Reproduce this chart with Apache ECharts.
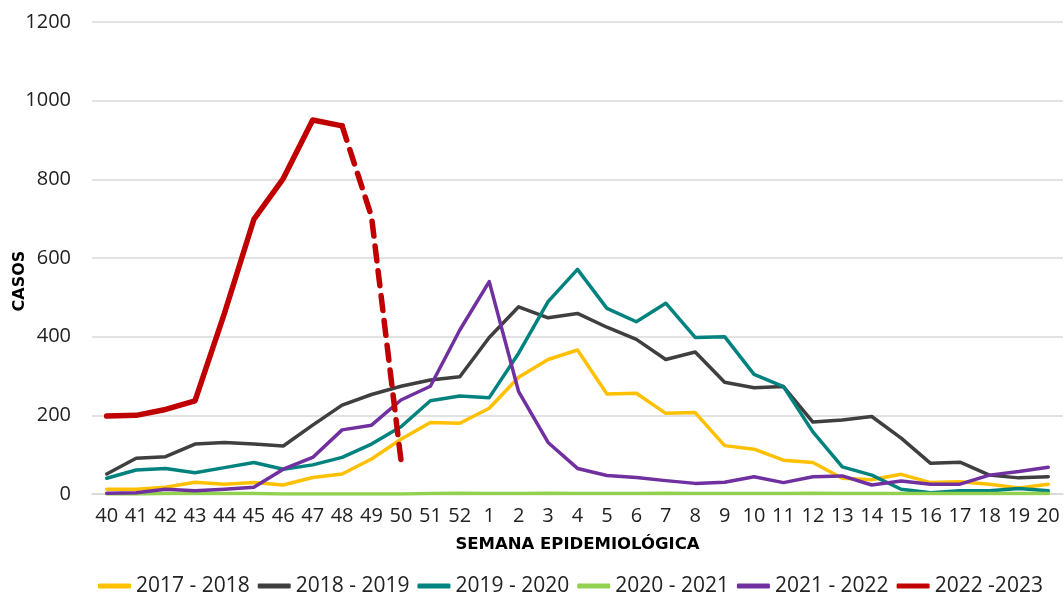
<!DOCTYPE html>
<html><head><meta charset="utf-8">
<script src="https://cdn.jsdelivr.net/npm/echarts@6/dist/echarts.min.js"></script>
<style>html,body{margin:0;padding:0;background:#fff}#c{width:1064px;height:594px}</style>
</head><body><div id="c"></div>
<script>
const weeks = ['40','41','42','43','44','45','46','47','48','49','50','51','52','1','2','3','4','5','6','7','8','9','10','11','12','13','14','15','16','17','18','19','20'];
const yTicks = [0, 200, 400, 600, 800, 1000, 1200];
const s2017 = [12,12,17,30,25,29,23,42,51,89,139,182,180,218,297,342,366,254,256,205,207,123,114,86,80,40,36,50,29,31,25,15,25];
const s2018 = [51,91,95,127,131,127,122,175,226,253,274,290,298,398,476,448,459,424,393,342,361,284,270,273,183,188,197,142,78,81,48,41,44];
const s2019 = [40,61,65,54,67,80,63,74,93,127,171,237,249,245,358,489,571,472,438,485,398,400,304,273,158,69,48,12,3,8,8,14,8];
const s2020 = [0,0,1,1,1,1,0,0,0,0,0,1,2,1,1,2,1,1,1,2,1,1,1,1,2,1,1,1,1,1,1,1,1];
const s2021 = [2,3,12,8,12,17,63,93,163,175,239,274,417,540,260,131,65,47,42,34,27,30,44,29,44,46,23,33,25,25,48,57,68];
const s2022 = [198,200,215,237,459,698,802,951,936,705,86];
const dashFrom = 8;

const names = ['2017 - 2018','2018 - 2019','2019 - 2020','2020 - 2021','2021 - 2022','2022 -2023'];
const colors = ['#FFC000','#3F3F3F','#00827F','#92D050','#7030A0','#C00000'];

const solid2022 = weeks.map((w,i)=> i<=dashFrom && i<s2022.length ? s2022[i] : null);
const dash2022 = weeks.map((w,i)=> i>=dashFrom && i<s2022.length ? s2022[i] : null);

function line(name, data, color, width, type){
  return {name, type:'line', data, symbol:'none', smooth:false, connectNulls:false,
    lineStyle:{color, width, type: type||'solid', cap:'round', join:'round'}, itemStyle:{color},
    emphasis:{disabled:true}, animation:false};
}
const font = '"Open Sans", "Noto Sans", sans-serif';
const bold = '"DejaVu Sans", "Open Sans", sans-serif';
const chart = echarts.init(document.getElementById('c'), null, {renderer:'canvas'});
chart.setOption({
  animation:false,
  grid:{left:92, right:1, top:22, bottom:100, containLabel:false, outerBoundsMode:'none'},
  xAxis:{type:'category', data:weeks, boundaryGap:true,
    axisLine:{show:true, lineStyle:{color:'#d9d9d9', width:1.5}}, axisTick:{show:false},
    axisLabel:{color:'#222', fontSize:20, fontFamily:font, margin:12, interval:0},
    name:'SEMANA EPIDEMIOLÓGICA', nameLocation:'middle', nameGap:42,
    nameTextStyle:{fontWeight:'bold', fontSize:16.5, color:'#000', fontFamily:bold}},
  yAxis:{type:'value', min:yTicks[0], max:yTicks[yTicks.length-1], interval:yTicks[1]-yTicks[0],
    axisLine:{show:false}, axisTick:{show:false},
    splitLine:{lineStyle:{color:'#d9d9d9', width:1.5}},
    axisLabel:{color:'#222', fontSize:20, fontFamily:font, margin:21, formatter:v=>String(v)},
    name:'CASOS', nameLocation:'middle', nameGap:64, nameRotate:90, nameMoveOverlap:false,
    nameTextStyle:{fontWeight:'bold', fontSize:16, color:'#000', fontFamily:bold, padding:[0,46,0,0]}},
  legend:{top:569, left:93, itemWidth:33, itemHeight:5, itemGap:8, icon:'roundRect',
    textStyle:{fontSize:21, color:'#222', fontFamily:font, lineHeight:24},
    data:names},
  series:[
    line(names[0], s2017, colors[0], 3.5),
    line(names[1], s2018, colors[1], 3.5),
    line(names[2], s2019, colors[2], 3.5),
    line(names[3], s2020, colors[3], 3.5),
    line(names[4], s2021, colors[4], 3.5),
    line(names[5], solid2022, colors[5], 5.5),
    line(names[5], dash2022, colors[5], 5.5, [15,10])
  ]
});
</script></body></html>
